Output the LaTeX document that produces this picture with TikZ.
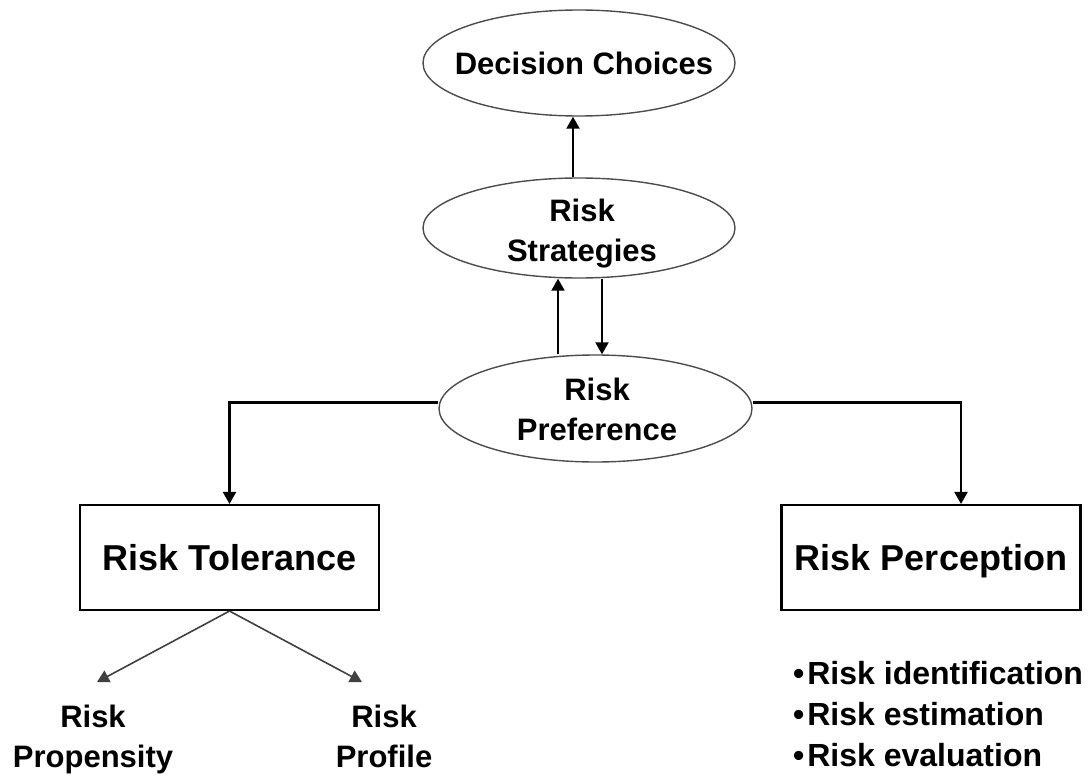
\documentclass[tikz,border=0pt]{standalone}
\usepackage{fontspec}
\setmainfont{Liberation Sans}
\usetikzlibrary{shapes.geometric,arrows.meta}
\begin{document}
\begin{tikzpicture}[x=1pt,y=-1pt,
  ell/.style={ellipse,draw=black!70,line width=1.4pt,inner sep=0pt},
  box/.style={rectangle,draw=black,line width=2.1pt,inner sep=0pt,
    minimum width=299pt,minimum height=105pt,
    font=\bfseries\fontsize{36}{42}\selectfont,text height=26pt,text depth=0pt},
  lbl/.style={font=\bfseries\fontsize{31}{40}\selectfont,align=center,inner sep=0pt},
  conn/.style={line width=2.1pt,-{Triangle[width=13pt,length=12pt]}},
  diag/.style={line width=1.6pt,draw=black!75,-{Triangle[width=13pt,length=12pt]}}]
\useasboundingbox (0,0) rectangle (1092,776);
% ellipses
\node[ell,minimum width=312pt,minimum height=106pt] (dc) at (579,63) {};
\node[ell,minimum width=312pt,minimum height=100pt] (rs) at (579,228) {};
\node[ell,minimum width=313pt,minimum height=107pt] (rp) at (595.5,408.5) {};
\node[lbl] (dct) at (584,63.7) {Decision Choices};
\node[lbl] (rst) at (582,234) {Risk\\Strategies};
\node[lbl] (rpt) at (597,409) {Risk\\Preference};
% boxes
\node[box] (rt) at (229.5,557.5) {Risk Tolerance};
\node[box] (rpc) at (931,557.5) {Risk Perception};
% bottom labels
\node[lbl] (pn) at (93,739) {Risk\\Propensity};
\node[lbl] (pf) at (384,736) {Risk\\Profile};
\node[font=\bfseries\fontsize{32}{41}\selectfont,align=left,anchor=north west,inner sep=0pt] (bl) at (793,661.5)
  {•\kern3pt Risk identification\\•\kern3pt Risk estimation\\•\kern3pt Risk evaluation};
% connectors
\coordinate (c1) at (573,0);
\coordinate (c2) at (558,0);
\coordinate (c3) at (602,0);
\draw[conn] (rs.north -| c1) -- (dc.south -| c1);
\draw[conn] (rp.north -| c2) -- (rs.south -| c2);
\draw[conn] (rs.south -| c3) -- (rp.north -| c3);
\draw[conn] ([yshift=6pt]rp.west) -| (rt.north);
\draw[conn] ([yshift=6pt]rp.east) -| ([xshift=30pt]rpc.north);
\coordinate (tl) at (97,682);
\coordinate (tr) at (362,682);
\draw[diag] (rt.south) -- (tl);
\draw[diag] (rt.south) -- (tr);
\end{tikzpicture}
\end{document}
